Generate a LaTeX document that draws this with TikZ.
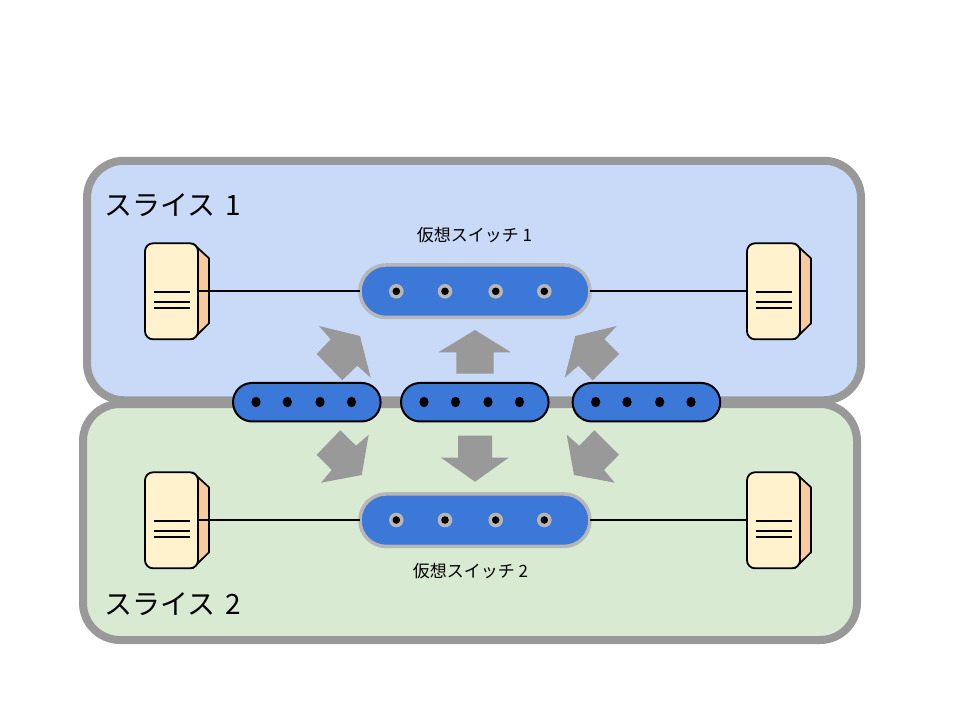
\documentclass[tikz,border=0pt]{standalone}
\usepackage{fontspec}
\setmainfont{Noto Sans CJK JP}
\definecolor{sliceA}{HTML}{C9DAF8}
\definecolor{sliceB}{HTML}{D9EAD3}
\definecolor{framegray}{HTML}{999999}
\definecolor{switchgray}{HTML}{B7B7B7}
\definecolor{swblue}{HTML}{3C78D8}
\definecolor{srvfront}{HTML}{FFF2CC}
\definecolor{srvside}{HTML}{F9CB9C}
\tikzset{
  x=1pt,y=-1pt,
  slicebox/.style={draw=framegray,line width=8pt,rounded corners=37pt,inner sep=0pt,outer sep=0pt},
  vswitch/.style={draw=switchgray,fill=swblue,line width=3.5pt,rounded corners=26pt,minimum width=230pt,minimum height=52.5pt,inner sep=0pt,outer sep=0pt},
  pswitch/.style={draw=black,fill=swblue,line width=2pt,rounded corners=19pt,minimum width=147.5pt,minimum height=38.5pt,inner sep=0pt,outer sep=0pt},
  bigarrow/.style={fill=framegray,draw=none},
  link/.style={draw=black,line width=1.6pt},
  slicelabel/.style={font=\fontsize{28pt}{28pt}\selectfont,inner sep=0pt,anchor=west},
  switchlabel/.style={font=\fontsize{17pt}{17pt}\selectfont,inner sep=0pt},
  server/.pic={
    \path[fill=srvside,draw=black,line width=1.7pt,line join=round] (48,0.3) -- (64,15) -- (64,80) -- (48,95.7) -- cycle;
    \node[draw=black,fill=srvfront,line width=1.8pt,rounded corners=8pt,minimum width=53pt,minimum height=96pt,inner sep=0pt,outer sep=0pt] (body) at (26.5,48) {};
    \draw[line width=1.7pt] (8.5,49) -- (45,49) (8.5,59) -- (45,59) (8.5,64.5) -- (45,64.5);
  },
}
\newcommand{\holes}[1]{%
  \foreach \hx in {396.3,445,495.7,544.3}{
    \fill[switchgray] (\hx,#1) circle[radius=7.3pt];
    \fill[black] (\hx,#1) circle[radius=3.8pt];
  }%
}
\newcommand{\pins}[4]{%
  \foreach \hx in {#1,#2,#3,#4}{
    \fill[black] (\hx,402) ellipse[x radius=4.6pt,y radius=5.2pt];
  }%
}
\begin{document}
\begin{tikzpicture}
\useasboundingbox[fill=white] (0,0) rectangle (960,720);
% slices
\node[slicebox,fill=sliceA,minimum width=774pt,minimum height=239.5pt] (slicea) at (474,280.5) {};
\node[slicebox,fill=sliceB,minimum width=774pt,minimum height=236pt] (sliceb) at (470,522) {};
\node[slicelabel] (labela) at (104,205) {スライス\hspace{4pt} 1};
\node[slicelabel] (labelb) at (104,604) {スライス\hspace{4pt} 2};
% servers
\pic (sa) at (145,243.3) {server};
\pic (sb) at (747,243.3) {server};
\pic (sc) at (145,472.3) {server};
\pic (sd) at (747,472.3) {server};
% virtual switches
\node[vswitch] (va) at (475,291.2) {};
\node[vswitch] (vb) at (475,520.2) {};
\holes{291.3}
\holes{520}
\draw[link] (sabody.east |- va.west) -- (va.west);
\draw[link] (va.east) -- (sbbody.west |- va.east);
\draw[link] (scbody.east |- vb.west) -- (vb.west);
\draw[link] (vb.east) -- (sdbody.west |- vb.east);
\node[switchlabel] (vla) at (474.5,235) {仮想スイッチ 1};
\node[switchlabel] (vlb) at (470.5,571) {仮想スイッチ 2};
% physical switches
\node[pswitch] (pa) at (306.8,402.2) {};
\node[pswitch] (pb) at (474.8,402.2) {};
\node[pswitch] (pc) at (646.4,402.2) {};
\pins{256}{287.3}{320}{351.5}
\pins{424}{455.5}{488}{519.5}
\pins{595.7}{627}{659.7}{691}
% arrows
\fill[bigarrow] (319,326) -- (360,336) -- (370.7,377.7) -- (357.3,365.7) -- (342.3,380.3) -- (316.7,354) -- (330.7,339.3) -- cycle;
\fill[bigarrow] (475,330) -- (511,352.3) -- (493.7,352.3) -- (493.7,373.7) -- (456.3,373.7) -- (456.3,352.3) -- (438.3,352.3) -- cycle;
\fill[bigarrow] (616.7,326) -- (575.3,336) -- (564.7,377.7) -- (578.3,365.7) -- (592.7,380.3) -- (619,354) -- (604.3,339.3) -- cycle;
\fill[bigarrow] (368.7,434.7) -- (361.7,475) -- (321,482.7) -- (331.7,470) -- (316.7,454.7) -- (340.3,430.3) -- (356,445.7) -- cycle;
\fill[bigarrow] (458,435.7) -- (492,435.7) -- (492,457.7) -- (508.7,457.7) -- (475,481.7) -- (441,457.7) -- (458,457.7) -- cycle;
\fill[bigarrow] (566.7,434.7) -- (574,475) -- (614.7,482.7) -- (604,470) -- (619,454.7) -- (594.3,430.3) -- (579.3,445.7) -- cycle;
\end{tikzpicture}
\end{document}
